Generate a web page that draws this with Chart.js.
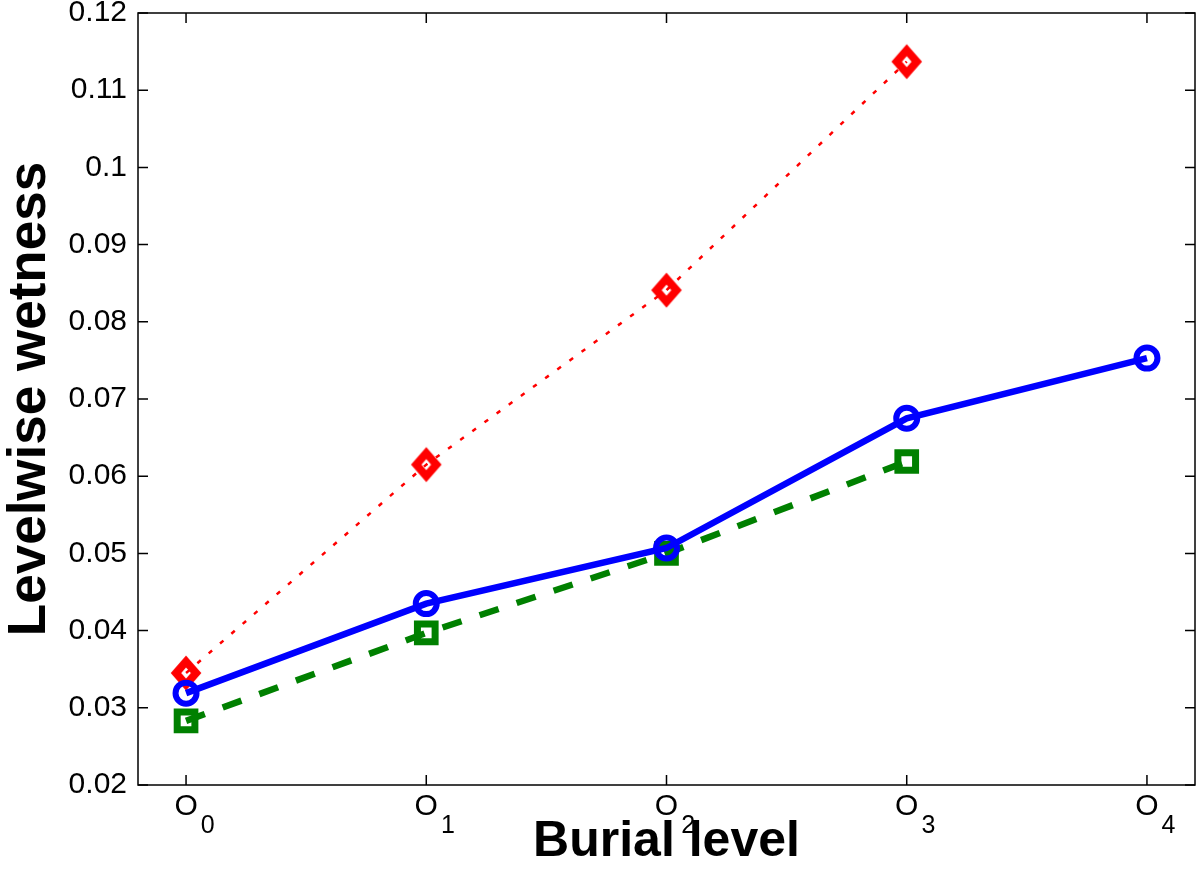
<!DOCTYPE html>
<html>
<head>
<meta charset="utf-8">
<script src="https://cdn.jsdelivr.net/npm/chart.js@4.4.0/dist/chart.umd.min.js"></script>
<style>
    html, body { margin: 0; padding: 0; background: #fff; }
    canvas { display: block; }
</style>
</head>
<body>
<div id="graficaContainer" style="width:1200px;height:878px"></div>
<script>
// Datos
const niveles = [0, 1, 2, 3, 4];
const subindices = ['0', '1', '2', '3', '4'];
const ticksY = [0.02, 0.03, 0.04, 0.05, 0.06, 0.07, 0.08, 0.09, 0.1, 0.11, 0.12];
const serieAzul = [0.0319, 0.0435, 0.0507, 0.0675, 0.0753];
const serieRoja = [0.0345, 0.0615, 0.0841, 0.1137];
const serieVerde = [0.0283, 0.0397, 0.0500, 0.0619];

const fuente = "'Liberation Sans', Arial, Helvetica, sans-serif";

// Marcador rombo (más alto que ancho, como en MATLAB)
function crearRombo() {
    const c = document.createElement('canvas');
    c.width = 44;
    c.height = 48;
    const g = c.getContext('2d');
    g.strokeStyle = '#ff0000';
    g.lineWidth = 8;
    g.lineJoin = 'miter';
    g.beginPath();
    g.moveTo(22, 24 - 11.5);
    g.lineTo(22 + 10, 24);
    g.lineTo(22, 24 + 11.5);
    g.lineTo(22 - 10, 24);
    g.closePath();
    g.stroke();
    return c;
}

function puntos(valores) {
    return valores.map((y, i) => ({ x: niveles[i], y: y }));
}

// Caja del eje con marcas hacia dentro
const marco = {
    id: 'marco',
    beforeDatasetsDraw(chart) {
        const { ctx, chartArea: a, scales } = chart;
        ctx.save();
        ctx.strokeStyle = '#000';
        ctx.lineWidth = 1.5;
        ctx.strokeRect(a.left, a.top, a.right - a.left, a.bottom - a.top);
        ctx.beginPath();
        niveles.forEach(v => {
            const x = scales.x.getPixelForValue(v);
            ctx.moveTo(x, a.bottom); ctx.lineTo(x, a.bottom - 10);
            ctx.moveTo(x, a.top); ctx.lineTo(x, a.top + 10);
        });
        ticksY.forEach(v => {
            const y = scales.y.getPixelForValue(v);
            ctx.moveTo(a.left, y); ctx.lineTo(a.left + 10, y);
            ctx.moveTo(a.right, y); ctx.lineTo(a.right - 10, y);
        });
        ctx.stroke();
        ctx.restore();
    },
    // Etiquetas O con subíndice
    afterDraw(chart) {
        const { ctx, chartArea: a, scales } = chart;
        ctx.save();
        ctx.fillStyle = '#000';
        ctx.textBaseline = 'alphabetic';
        ctx.textAlign = 'left';
        niveles.forEach((v, i) => {
            const x = scales.x.getPixelForValue(v);
            ctx.font = '30px ' + fuente;
            const w = ctx.measureText('O').width;
            ctx.fillText('O', x - w / 2, a.bottom + 30);
            ctx.font = '25px ' + fuente;
            ctx.fillText(subindices[i], x + w / 2 + 3, a.bottom + 48);
        });
        ctx.restore();
    }
};

function generarGrafica() {
    const ctx = document.getElementById('grafica').getContext('2d');

    new Chart(ctx, {
        type: 'line',
        data: {
            datasets: [
                {
                    label: 'Serie azul',
                    data: puntos(serieAzul),
                    borderColor: '#0000ff',
                    borderWidth: 6.5,
                    pointStyle: 'circle',
                    pointRadius: 10.5,
                    pointBorderWidth: 6,
                    pointBorderColor: '#0000ff',
                    pointBackgroundColor: 'rgba(0,0,0,0)',
                    order: 1,
                },
                {
                    label: 'Serie verde',
                    data: puntos(serieVerde),
                    borderColor: '#008000',
                    borderWidth: 6.5,
                    borderDash: [20, 19],
                    pointStyle: 'rect',
                    pointRadius: 12.5,
                    pointBorderWidth: 7,
                    pointBorderColor: '#008000',
                    pointBackgroundColor: 'rgba(0,0,0,0)',
                    order: 2,
                },
                {
                    label: 'Serie roja',
                    data: puntos(serieRoja),
                    borderColor: '#ff0000',
                    borderWidth: 2.5,
                    borderDash: [4.5, 10.5],
                    pointStyle: crearRombo(),
                    order: 3,
                },
            ],
        },
        options: {
            responsive: false,
            animation: false,
            devicePixelRatio: 1,
            layout: {
                autoPadding: false,
                padding: { top: 13, right: 5, left: 0, bottom: 0 },
            },
            plugins: {
                legend: { display: false },
                tooltip: { enabled: false },
            },
            elements: {
                line: { tension: 0, fill: false },
            },
            scales: {
                x: {
                    type: 'linear',
                    min: -0.2,
                    max: 4.2,
                    grid: { display: false, drawTicks: false },
                    border: { display: false },
                    ticks: { callback: () => '' },
                    afterBuildTicks: (scale) => {
                        scale.ticks = niveles.map(v => ({ value: v }));
                    },
                    afterFit: (scale) => {
                        scale.height = 93;
                        scale.paddingLeft = 0;
                        scale.paddingRight = 0;
                    },
                    title: {
                        display: true,
                        text: 'Burial level',
                        color: '#000',
                        font: { family: fuente, size: 50, weight: 'bold', lineHeight: 1.2 },
                        padding: { top: 0, bottom: 6 },
                    },
                },
                y: {
                    min: 0.02,
                    max: 0.12,
                    grid: { display: false, drawTicks: false },
                    border: { display: false },
                    afterBuildTicks: (scale) => {
                        scale.ticks = ticksY.map(v => ({ value: v }));
                    },
                    afterFit: (scale) => {
                        scale.width = 138;
                        scale.paddingTop = 0;
                        scale.paddingBottom = 0;
                    },
                    ticks: {
                        padding: 11,
                        color: '#000',
                        font: { family: fuente, size: 30 },
                        callback: (v) => parseFloat(v.toFixed(2)).toString(),
                    },
                    title: {
                        display: true,
                        text: 'Levelwise wetness',
                        color: '#000',
                        font: { family: fuente, size: 53, weight: 'bold', lineHeight: 1.15 },
                        padding: { top: 0, bottom: 0 },
                    },
                },
            },
        },
        plugins: [marco],
    });
}

document.addEventListener('DOMContentLoaded', () => {
    const graficaContainer = document.getElementById('graficaContainer');
    if (graficaContainer) {
        graficaContainer.innerHTML = '<canvas id="grafica" width="1200" height="878"></canvas>';
        generarGrafica();
    }
});
</script>
</body>
</html>
